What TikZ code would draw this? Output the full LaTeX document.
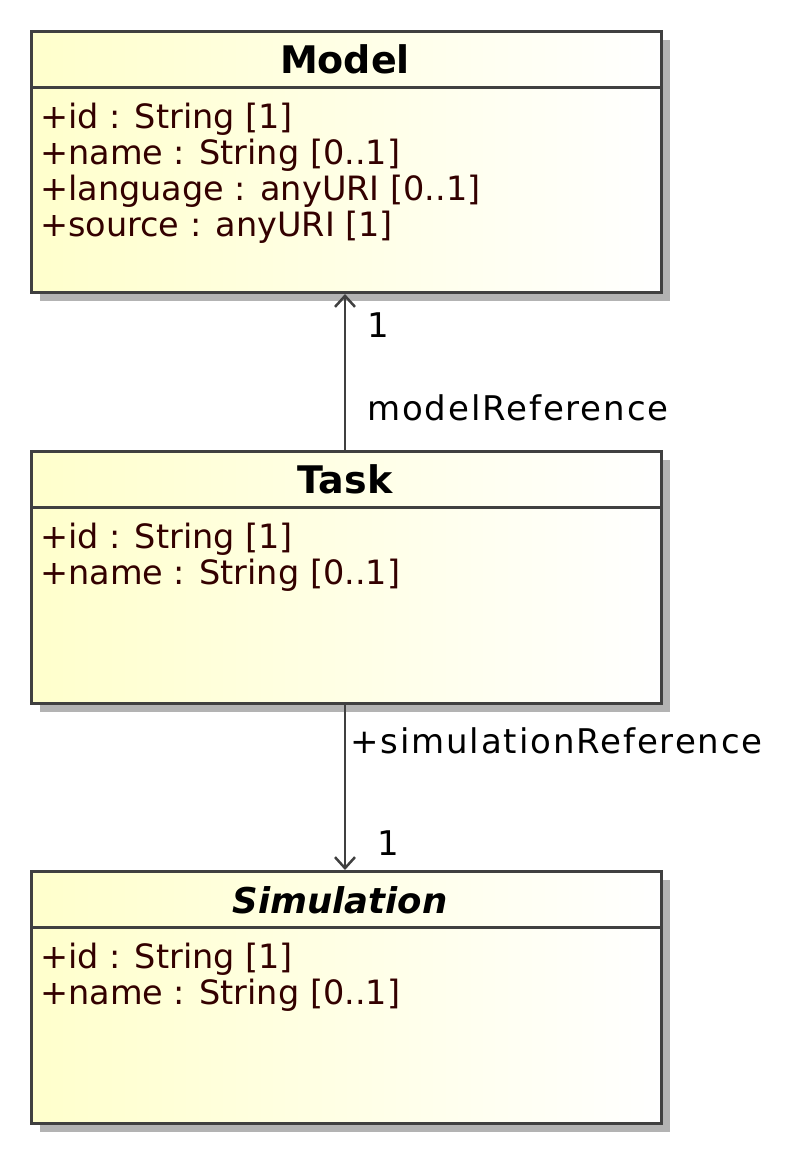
\documentclass[tikz,border=0pt]{standalone}
\usepackage{fontspec}
\setmainfont{DejaVu Sans}
\newfontfamily\spacedfont[LetterSpace=5.5]{DejaVu Sans}
\usetikzlibrary{arrows.meta, shadows, calc}
\definecolor{umlline}{RGB}{64,64,64}
\definecolor{umlattr}{RGB}{51,0,0}
\definecolor{umlfill}{RGB}{255,255,204}
\definecolor{umlshadow}{RGB}{179,179,179}

\begin{document}
\begin{tikzpicture}[x=1pt, y=-1pt,
  classbox/.style={draw=umlline, line width=3pt, left color=umlfill, right color=white,
    minimum width=630pt, anchor=north west, inner sep=0pt,
    drop shadow={shadow xshift=8pt, shadow yshift=-8pt, fill=umlshadow, opacity=1}},
  classtitle/.style={font=\fontsize{38}{42}\selectfont\bfseries, anchor=base, inner sep=0pt},
  attr/.style={font=\fontsize{33.5}{36}\selectfont, text=umlattr, anchor=base west, inner sep=0pt},
  assoclabel/.style={font=\spacedfont\fontsize{34}{38}\selectfont, anchor=base west, inner sep=0pt},
  assoc/.style={draw=umlline, line width=2.5pt, -{Straight Barb[length=11pt, width=20pt, line width=2.5pt]}}]
  \useasboundingbox (0,0) rectangle (795,1152);

  % class boxes
  \node[classbox, minimum height=261pt] (model) at (30,30) {};
  \node[classbox, minimum height=252pt] (task) at (30,450) {};
  \node[classbox, minimum height=252pt] (sim) at (30,870) {};
  \foreach \c in {model, task, sim}
    \draw[umlline, line width=3pt] ([yshift=-57pt]\c.north west) -- ([yshift=-57pt]\c.north east);

  % titles
  \node[classtitle] (modeltitle) at (345,73) {Model};
  \node[classtitle] (tasktitle) at (345,493) {Task};
  \node[classtitle, font=\fontsize{35.5}{40}\selectfont\bfseries\itshape] (simtitle) at (340,913) {Simulation};

  % attributes
  \foreach \a [count=\i] in {+id : String [1], +name : String [0..1],
      +language : anyURI [0..1], +source : anyURI [1]}
    \node[attr] (modelattr\i) at (40,{128+36*(\i-1)}) {\a};
  \foreach \a [count=\i] in {+id : String [1], +name : String [0..1]}
    \node[attr] (taskattr\i) at (40,{548+36*(\i-1)}) {\a};
  \foreach \a [count=\i] in {+id : String [1], +name : String [0..1]}
    \node[attr] (simattr\i) at (40,{968+36*(\i-1)}) {\a};

  % associations
  \draw[assoc] (task.north -| 345,0) -- (model.south -| 345,0);
  \draw[assoc] (task.south -| 345,0) -- (sim.north -| 345,0);
  \node[assoclabel] (modelmult) at (367,337) {1};
  \node[assoclabel] (modelrole) at (367,420) {modelReference};
  \node[assoclabel] (simrole) at (350,753) {+simulationReference};
  \node[assoclabel] (simmult) at (377,855) {1};
\end{tikzpicture}
\end{document}
